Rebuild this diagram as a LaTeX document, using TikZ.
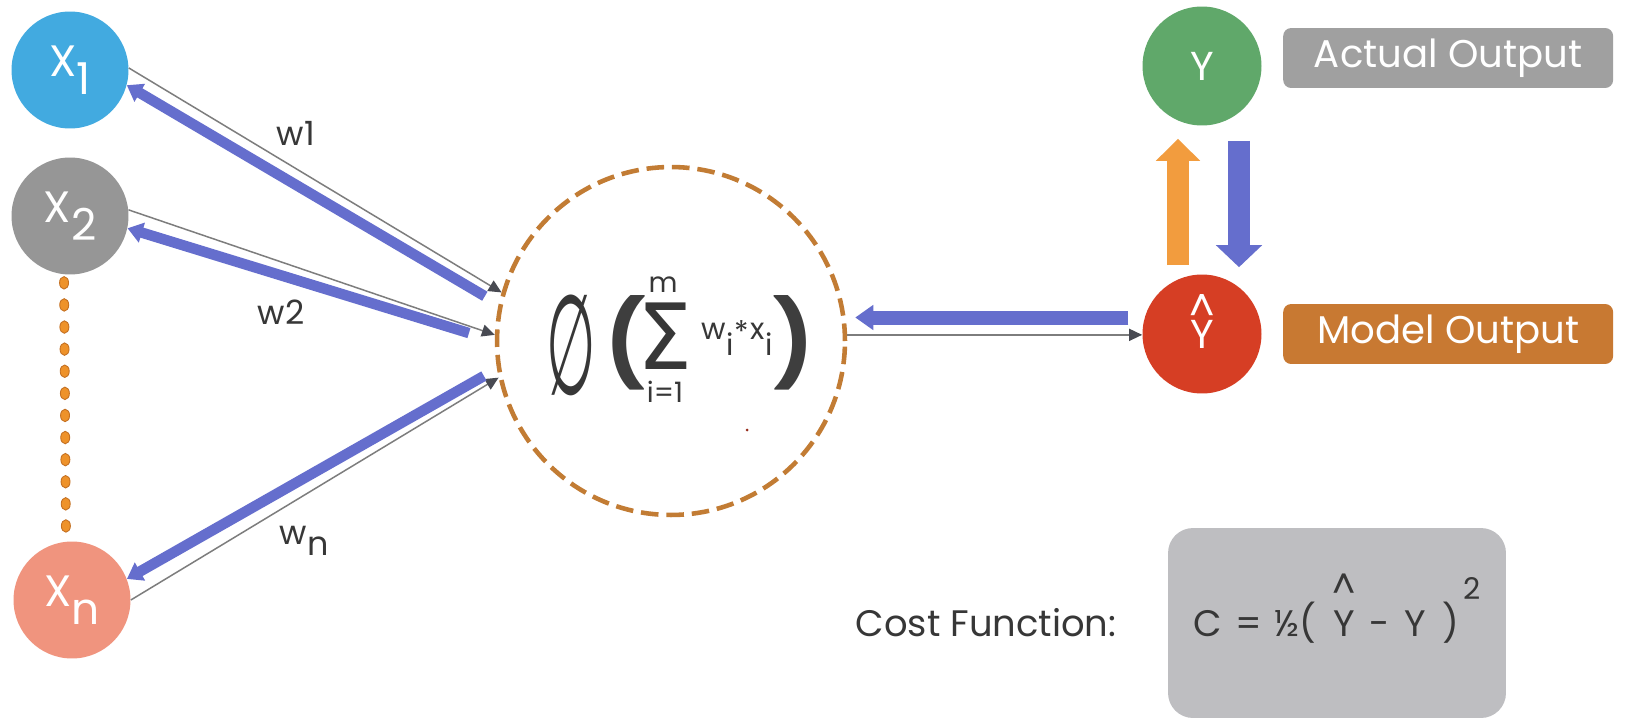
\documentclass[tikz,border=0pt]{standalone}
\usepackage{fontspec}
\setmainfont{Poppins}
\newfontfamily\symfont{DejaVu Sans}
\usetikzlibrary{positioning, arrows.meta, calc}

\definecolor{inblue}{RGB}{66,170,224}
\definecolor{ingray}{RGB}{150,150,150}
\definecolor{insalmon}{RGB}{240,148,126}
\definecolor{dotorange}{RGB}{238,146,42}
\definecolor{dotedge}{RGB}{196,112,34}
\definecolor{ringbrown}{RGB}{194,124,52}
\definecolor{backblue}{RGB}{101,110,205}
\definecolor{linegray}{RGB}{125,125,125}
\definecolor{tipgray}{RGB}{72,74,82}
\definecolor{ygreen}{RGB}{96,168,106}
\definecolor{yred}{RGB}{214,62,36}
\definecolor{uporange}{RGB}{242,156,62}
\definecolor{actualgray}{RGB}{160,160,160}
\definecolor{modelbrown}{RGB}{200,121,50}
\definecolor{costgray}{RGB}{190,190,193}
\definecolor{darktext}{RGB}{55,55,55}
\definecolor{parengray}{RGB}{62,62,62}

\newcommand{\hatY}[1]{\rlap{\makebox[\fontcharwd\font`Y]{\raisebox{#1}[0pt][0pt]{\textasciicircum}}}Y}

\begin{document}
\begin{tikzpicture}[x=0.02cm, y=-0.02cm,
    every node/.style={text=darktext},
    input/.style={circle, minimum size=2.34cm, inner sep=0pt, text=white, font=\fontsize{25}{25}\selectfont},
    output/.style={circle, minimum size=2.38cm, inner sep=0pt, text=white, font=\fontsize{23}{23}\selectfont},
    neuron/.style={circle, minimum size=6.96cm, draw=ringbrown, line width=2.6pt, dash pattern=on 10pt off 4.5pt},
    tag/.style={rounded corners=0.16cm, minimum width=6.6cm, minimum height=1.2cm, text=white, font=\fontsize{22}{22}\selectfont},
    costbox/.style={fill=costgray, rounded corners=0.5cm, minimum width=6.76cm, minimum height=3.8cm, text depth=0pt, font=\fontsize{21}{21}\selectfont},
    weight/.style={font=\fontsize{19}{19}\selectfont},
    paren/.style={font=\bfseries\fontsize{48}{48}\selectfont, text=parengray},
    limit/.style={font=\fontsize{16}{16}\selectfont},
    fwdline/.style={draw=linegray, line width=0.85pt, -{Triangle[length=0.26cm, width=0.24cm, color=tipgray]}},
    backprop/.style={draw=backblue, line width=0.21cm, -{Triangle[length=0.3cm, width=0.4cm]}},
    upflow/.style={draw=uporange, line width=0.44cm, -{Triangle[length=0.44cm, width=0.86cm]}},
    downflow/.style={draw=backblue, line width=0.44cm, -{Triangle[length=0.44cm, width=0.9cm]}}]

    \fill[white] (0,0) rectangle (1633,720);
    \useasboundingbox (0,0) rectangle (1633,720);

    % inputs
    \node[input, fill=inblue] (x1) at (70,70) {X\raisebox{-.42em}{1}};
    \node[input, fill=ingray] (x2) at (70,216) {X\raisebox{-.42em}{2}};
    \node[input, fill=insalmon] (xn) at (72,600) {X\raisebox{-.42em}{n}};

    % dots between x2 and xn
    \foreach \t in {0,...,11}
        \draw[dotedge, fill=dotorange, line width=0.5pt] ($(x2.south)!{0.03+\t*0.083}!(xn.north)+(-6,0)$) ellipse [x radius=0.09cm, y radius=0.125cm];

    % neuron with its formula
    \node[neuron] (neuron) at (671,341) {};
    \node (phi) at (571,345) {\symfont\fontsize{38}{38}\selectfont\scalebox{0.85}[2.1]{∅}};
    \node[paren] (lpar) at (626,343) {(};
    \node[font=\symfont\fontsize{52}{52}\selectfont] (sigma) at (665,336) {\scalebox{0.95}[1]{Σ}};
    \node[limit] (upper) at (663,285) {m};
    \node[limit] (lower) at (665,392) {i=1};
    \node[font=\fontsize{17}{17}\selectfont] (wx) at (737,338) {w\raisebox{-.55em}{i}\hspace{.05em}\raisebox{-.1em}{*}\hspace{.05em}x\raisebox{-.55em}{i}};
    \node[paren] (rpar) at (794,343) {)};
    \fill[yred!70!black] (747,430) circle (0.03cm);

    % outputs
    \node[output, fill=ygreen] (y) at (1202,66) {Y};
    \node[output, fill=yred] (yhat) at (1202,334) {\raisebox{-.3em}{\hatY{0.64em}}};
    \node[tag, fill=actualgray, right=0.42cm of y, yshift=0.16cm] (actual) {Actual Output};
    \node[tag, fill=modelbrown, right=0.42cm of yhat] (model) {Model Output};

    % cost
    \node[font=\fontsize{21}{21}\selectfont] (costlabel) at (986,623) {Cost Function:};
    \node[costbox] (cost) at (1337,623) {\raisebox{.2em}{C\hspace{.35em}=\hspace{.35em}½(\hspace{.45em}\hatY{1.0em}\hspace{.4em}-\hspace{.4em}Y\hspace{.45em})\kern.1em\raisebox{1.0em}[0pt][0pt]{\fontsize{17}{17}\selectfont 2}}};

    % weights
    \node[weight] (w1) at (296,133) {w1};
    \node[weight] (w2) at (281,312) {w2};
    \node[weight] (wn) at (304,541) {w\raisebox{-.35em}{n}};

    % forward lines
    \draw[fwdline] (x1.2) -- (neuron.164);
    \draw[fwdline] (x2.6) -- (neuron.178);
    \draw[fwdline] (xn.0) -- (neuron.192);
    \draw[fwdline] (neuron.2) -- (neuron.2 -| yhat.west);

    % error going back
    \draw[backprop, shorten <=0.32cm] (neuron.168) -- (x1.-15);
    \draw[backprop, shorten <=0.54cm] (neuron.180) -- (x2.-12);
    \draw[backprop, shorten <=0.3cm] (neuron.189) -- (xn.21);
    \draw[backprop, line width=0.28cm, -{Triangle[length=0.36cm, width=0.48cm]}, shorten <=0.32cm, shorten >=0.16cm] (yhat.164) -- (yhat.164 -| neuron.east);

    % between the outputs
    \draw[upflow] ($(yhat.north)+(-24,-9)$) -- ($(y.south)+(-24,13)$);
    \draw[downflow] ($(y.south)+(37,15)$) -- ($(yhat.north)+(37,-7)$);

\end{tikzpicture}
\end{document}
